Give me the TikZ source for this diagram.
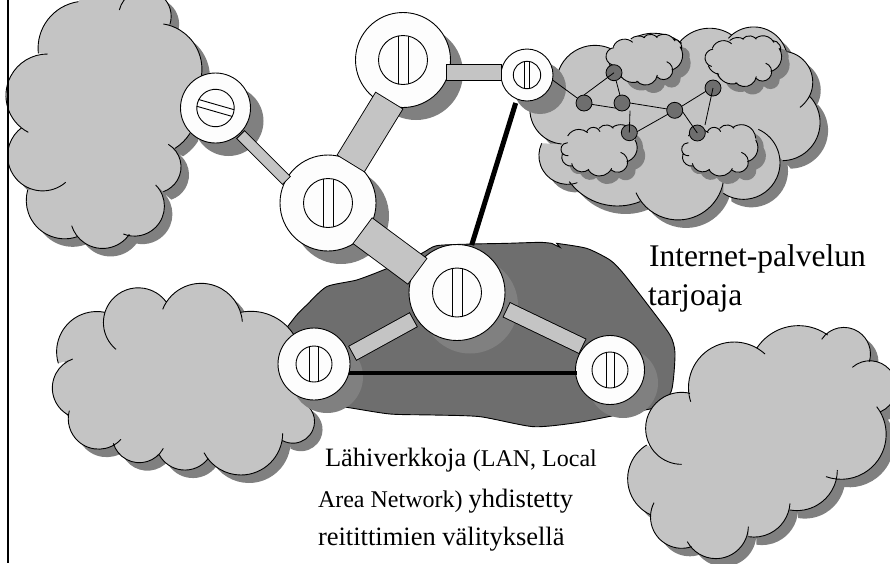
\documentclass[tikz,border=0pt]{standalone}
\usepackage{fontspec}
\setmainfont{Liberation Serif}
\definecolor{cloudgray}{HTML}{C4C4C4}
\definecolor{shadowgray}{HTML}{808080}
\definecolor{blobgray}{HTML}{6E6E6E}
\definecolor{nodewhite}{HTML}{FDFDFD}
\tikzset{
  routernode/.style={circle,draw=black,line width=0.9pt,fill=nodewhite,inner sep=0pt,outer sep=0pt},
  hopnode/.style={circle,draw=black,line width=0.8pt,fill=blobgray,inner sep=0pt,outer sep=0pt,minimum size=16pt},
  outline/.style={draw=black,line width=0.9pt},
  netline/.style={draw=black,line width=0.8pt},
  thickline/.style={draw=black,line width=4pt},
  lbl/.style={anchor=base west,inner sep=0pt,outer sep=0pt},
}
% one cloud lobe: circular arc through three points (zoom units)
\newcommand{\lobejoin}{}
\newcommand{\afterlobe}{}
\newcommand{\fillonly}[2]{}
\newcommand{\Lb}[6]{%
  \pgfmathsetmacro\lbx{(#3-#1)/100}%
  \pgfmathsetmacro\lby{(#4-#2)/100}%
  \pgfmathsetmacro\lcx{(#5-#1)/100}%
  \pgfmathsetmacro\lcy{(#6-#2)/100}%
  \pgfmathsetmacro\ld{2*(\lbx*\lcy-\lby*\lcx)}%
  \pgfmathsetmacro\lux{(\lcy*(\lbx*\lbx+\lby*\lby)-\lby*(\lcx*\lcx+\lcy*\lcy))/\ld}%
  \pgfmathsetmacro\luy{(\lbx*(\lcx*\lcx+\lcy*\lcy)-\lcx*(\lbx*\lbx+\lby*\lby))/\ld}%
  \pgfmathsetmacro\lr{100*sqrt(\lux*\lux+\luy*\luy)}%
  \pgfmathsetmacro\laa{atan2(-\luy,-\lux)}%
  \pgfmathsetmacro\lab{atan2(\lby-\luy,\lbx-\lux)}%
  \pgfmathsetmacro\lac{atan2(\lcy-\luy,\lcx-\lux)}%
  \pgfmathsetmacro\ldb{mod(\lab-\laa+720,360)}%
  \pgfmathsetmacro\ldc{mod(\lac-\laa+720,360)}%
  \pgfmathsetmacro\lend{\ldb<\ldc ? \laa+\ldc : \laa+\ldc-360}%
  \lobejoin{\pgfpoint{#1pt}{#2pt}}%
  \pgfpatharc{\laa}{\lend}{\lr pt}%
  \afterlobe}
% cloud outlines
\newcommand{\cloudA}{%
 \Lb{115}{160}{130}{80}{235}{5}\fillonly{300}{-80}\fillonly{420}{-80}%
 \Lb{358}{30}{495}{-2}{510}{72}%
 \Lb{490}{72}{585}{135}{603}{235}%
 \Lb{570}{400}{550}{425}{525}{445}%
 \Lb{505}{433}{543}{505}{490}{575}%
 \Lb{467}{555}{493}{625}{370}{702}%
 \Lb{388}{703}{300}{745}{215}{677}%
 \Lb{232}{710}{110}{680}{83}{570}%
 \Lb{197}{547}{40}{525}{65}{383}%
 \Lb{85}{397}{18}{280}{143}{162}}
\newcommand{\cloudB}{%
 \Lb{322}{225}{390}{145}{490}{150}%
 \Lb{560}{110}{620}{100}{695}{130}%
 \Lb{690}{125}{770}{85}{845}{105}%
 \Lb{835}{115}{940}{85}{1012}{170}%
 \Lb{1012}{155}{1088}{240}{1050}{322}%
 \Lb{1080}{290}{1108}{390}{998}{482}%
 \Lb{925}{388}{990}{490}{820}{580}%
 \Lb{820}{545}{720}{655}{558}{578}%
 \Lb{570}{605}{470}{615}{358}{545}%
 \Lb{382}{548}{285}{520}{275}{430}%
 \Lb{335}{432}{242}{350}{322}{225}}
\newcommand{\cloudC}{%
 \Lb{175}{250}{205}{130}{315}{97}%
 \Lb{348}{208}{345}{50}{498}{65}%
 \Lb{488}{88}{600}{10}{727}{125}%
 \Lb{722}{97}{810}{105}{882}{165}%
 \Lb{905}{365}{942}{410}{848}{482}%
 \Lb{848}{460}{750}{582}{612}{518}%
 \Lb{625}{535}{560}{570}{478}{525}%
 \Lb{490}{505}{420}{548}{340}{490}%
 \Lb{363}{478}{250}{495}{208}{392}%
 \Lb{205}{405}{157}{325}{218}{237}}
\newcommand{\cloudD}{%
 \Lb{695}{553}{587}{450}{720}{340}%
 \Lb{722}{365}{775}{210}{945}{222}%
 \Lb{920}{205}{1050}{137}{1133}{165}%
 \Lb{1115}{178}{1225}{155}{1258}{245}%
 \Lb{1207}{262}{1320}{270}{1292}{395}%
 \Lb{1280}{380}{1300}{510}{1128}{590}%
 \Lb{1162}{570}{1110}{670}{1020}{690}%
 \Lb{1020}{670}{960}{760}{895}{770}%
 \Lb{895}{740}{810}{835}{712}{785}%
 \Lb{725}{800}{610}{750}{612}{668}%
 \Lb{603}{705}{533}{600}{590}{495}}
\newcommand{\smallA}{%
 \Lb{40}{65}{60}{45}{98}{52}%
 \Lb{92}{42}{115}{33}{135}{38}%
 \Lb{130}{38}{150}{28}{172}{38}%
 \Lb{170}{35}{195}{28}{225}{48}%
 \Lb{220}{42}{240}{52}{245}{72}%
 \Lb{240}{65}{247}{100}{215}{135}%
 \Lb{200}{110}{218}{135}{170}{155}%
 \Lb{172}{150}{140}{180}{110}{168}%
 \Lb{115}{170}{80}{168}{55}{140}%
 \Lb{60}{143}{38}{133}{28}{118}%
 \Lb{38}{120}{18}{95}{42}{68}}
\newcommand{\smallB}{%
 \Lb{38}{48}{60}{30}{98}{38}%
 \Lb{95}{35}{115}{22}{135}{35}%
 \Lb{132}{25}{150}{15}{175}{25}%
 \Lb{172}{22}{215}{18}{240}{55}%
 \Lb{240}{60}{245}{95}{215}{125}%
 \Lb{197}{97}{218}{125}{168}{150}%
 \Lb{170}{145}{135}{168}{100}{150}%
 \Lb{102}{148}{75}{155}{50}{130}%
 \Lb{52}{138}{28}{130}{22}{100}%
 \Lb{40}{107}{18}{85}{38}{68}}
\newcommand{\fillmode}{%
  \let\lobejoin\pgfpathmoveto
  \renewcommand{\afterlobe}{\let\lobejoin\pgfpathlineto}%
  \renewcommand{\fillonly}[2]{\pgfpathlineto{\pgfpoint{##1pt}{##2pt}}}}
\newcommand{\drawmode}{%
  \let\lobejoin\pgfpathmoveto
  \renewcommand{\afterlobe}{}%
  \renewcommand{\fillonly}[2]{}}
% #1 origin, #2 outline macro
\newcommand{\putcloud}[2]{%
  \begin{scope}[shift={#1}]
    \begin{scope}[shift={(8,8)},xscale=0.33333,yscale=-0.33333]
      \fillmode #2\pgfpathclose\pgfsetfillcolor{shadowgray}\pgfusepath{fill}
    \end{scope}
    \begin{scope}[xscale=0.33333,yscale=-0.33333]
      \fillmode #2\pgfpathclose\pgfsetfillcolor{cloudgray}\pgfusepath{fill}
      \drawmode #2\pgfsetstrokecolor{black}\pgfsetlinewidth{0.9pt}\pgfusepath{stroke}
    \end{scope}
  \end{scope}}
\newcommand{\routershadow}[3]{\fill[shadowgray] (#1+13,#2+13) circle (#3);}
% name, x, y, r, inner r, gap, angle
\newcommand{\router}[7]{%
  \node[routernode,minimum size=#4*2pt] (#1) at (#2,#3) {};
  \begin{scope}[shift={(#2,#3)},rotate=#7]
    \draw[outline] (0,0) circle (#5);
    \clip (0,0) circle (#5);
    \draw[outline] (-#6/2,-#5) -- (-#6/2,#5) (#6/2,-#5) -- (#6/2,#5);
  \end{scope}}
% from, to, width
\newcommand{\band}[3]{%
  \draw[black,line width=#3pt+1.8pt,shorten >=-0.9pt,shorten <=-0.9pt] (#1) -- (#2);
  \draw[cloudgray,line width=#3pt] (#1) -- (#2);}
\begin{document}
\begin{tikzpicture}[x=1pt,y=-1pt]
\useasboundingbox (0,0) rectangle (890,563);
\clip (0,0) rectangle (890,563);
% LAN blob
\fill[blobgray,draw=black,line width=0.9pt,shift={(300,230)},x=0.33333pt,y=-0.33333pt]
  plot[smooth,tension=0.4] coordinates {(-45,300)(-10,255)(20,225)(80,170)(170,150)(255,118)(365,70)(410,47)(520,42)(620,40)(720,37)(755,40)}
  -- (780,52) -- (770,40)
  -- plot[smooth,tension=0.4] coordinates {(770,40)(860,55)(930,90)(970,130)(1040,220)(1110,315)(1125,370)(1115,480)(1075,530)(950,555)(830,578)(700,590)(540,560)(400,555)(270,552)(140,532)(40,520)} -- cycle;
% clouds
\putcloud{(0,0)}{\cloudA}
\putcloud{(450,0)}{\cloudB}
\putcloud{(0,280)}{\cloudC}
\putcloud{(450,280)}{\cloudD}
\putcloud{(600,25)}{\smallA}
\putcloud{(699,26.5)}{\smallA}
\putcloud{(555,120)}{\smallB}
\putcloud{(675.7,120)}{\smallB}
% frame line
\draw[black,line width=2.7pt] (8,0) -- (8,563);
% router shadows
\routershadow{215.5}{108}{35}
\routershadow{403}{60}{47}
\routershadow{328}{203}{48}
\routershadow{527}{75}{26}
\routershadow{457}{292.5}{48}
\routershadow{314}{364}{36}
\routershadow{610}{370}{35}
% routers
\router{R1}{215.5}{108}{35}{18.7}{7}{74}
\router{R2}{403}{60}{47.5}{24.5}{10}{0}
\router{R3}{328}{203}{48}{24.5}{10}{0}
\router{R4}{527}{75}{26}{13.7}{5}{0}
\router{R5}{457}{292.5}{48}{24.5}{10}{0}
\router{R6}{314}{364}{36}{18}{9}{0}
\router{R7}{610}{370}{34.5}{18}{8}{0}
% band ends
\coordinate (b1a) at (241,135);
\coordinate (b1b) at (286,180);
\coordinate (b2a) at (389,101);
\coordinate (b2b) at (351,163);
\coordinate (b3a) at (363,231);
\coordinate (b3b) at (417,271);
\coordinate (b4a) at (447,72.5);
\coordinate (b4b) at (501,72.5);
\coordinate (b5a) at (413,320);
\coordinate (b5b) at (353,353);
\coordinate (b6a) at (507,310);
\coordinate (b6b) at (582,346);
\band{b1a}{b1b}{10}
\band{b2a}{b2b}{31}
\band{b3a}{b3b}{31}
\band{b4a}{b4b}{15}
\band{b5a}{b5b}{15}
\band{b6a}{b6b}{15}
% thick lines
\coordinate (t1) at (515.7,103);
\coordinate (t2) at (471.7,245);
\coordinate (t3) at (349,373.3);
\coordinate (t4) at (577,373.3);
\draw[line width=5pt,black] (t1) -- (t2);
\draw[thickline] (t3) -- (t4);
% inner network
\node[hopnode] (n1) at (614,72.7) {};
\node[hopnode] (n2) at (584,103) {};
\node[hopnode] (n3) at (622,103) {};
\node[hopnode] (n4) at (674.7,110.3) {};
\node[hopnode] (n5) at (713,88) {};
\node[hopnode] (n6) at (629.3,132.7) {};
\node[hopnode] (n7) at (697.3,133) {};
\coordinate (e5) at (705,125);
\coordinate (e6) at (630,110.7);
\draw[netline] (R4.-11) -- (n2);
\draw[netline] (n2.north) -- (n1.center);
\draw[netline] (n1) -- (n3);
\draw[netline] (n2.-10) -- (n3.220);
\draw[netline] (n3.east) -- (n4.170);
\draw[netline] (n4.30) -- (n5.205);
\draw[netline] (n6.8) -- (n4.210);
\draw[netline] (n4.-10) -- (n7.center);
\draw[netline] (n5.center) -- (e5);
\draw[netline] (n6.center) -- (e6);
% labels
\node[lbl,font=\fontsize{31.5}{31.5}\selectfont] (t1a) at (649,266) {Internet-palvelun};
\node[lbl,font=\fontsize{31.5}{31.5}\selectfont] (t1b) at (648,305) {tarjoaja};
\node[lbl,font=\fontsize{26.5}{26.5}\selectfont] (c1) at (325,466) {Lähiverkkoja \fontsize{24}{24}\selectfont (LAN, Local};
\node[lbl,font=\fontsize{24}{24}\selectfont] (c2) at (318,507) {Area Network) \fontsize{26.5}{26.5}\selectfont yhdistetty};
\node[lbl,font=\fontsize{26.5}{26.5}\selectfont] (c3) at (318,545) {reitittimien välityksellä};
\end{tikzpicture}
\end{document}
